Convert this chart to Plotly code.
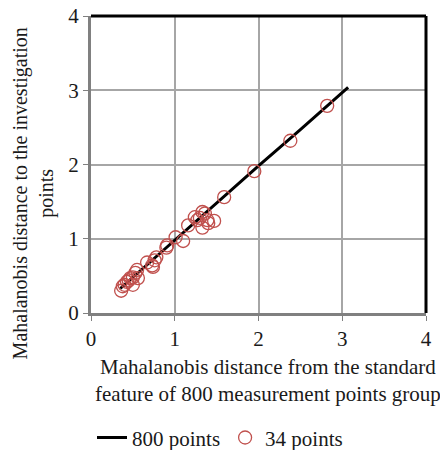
import plotly.graph_objects as go

# 800-points reference line
line_x = [0.35, 0.5, 1.0, 1.5, 2.0, 2.5, 3.07]
line_y = [0.33, 0.48, 0.99, 1.49, 1.98, 2.47, 3.04]

# 34 investigation points
pts_x = [0.36, 0.38, 0.40, 0.43, 0.45, 0.47, 0.50, 0.50, 0.53, 0.56, 0.55,
         0.67, 0.73, 0.74, 0.76, 0.78, 0.91, 0.90, 1.01, 1.10, 1.16, 1.24,
         1.27, 1.30, 1.33, 1.33, 1.36, 1.39, 1.40, 1.47, 1.59, 1.95, 2.38, 2.82]
pts_y = [0.30, 0.36, 0.38, 0.42, 0.44, 0.47, 0.48, 0.38, 0.54, 0.47, 0.58,
         0.68, 0.64, 0.62, 0.71, 0.75, 0.91, 0.88, 1.02, 0.97, 1.18, 1.29,
         1.25, 1.28, 1.36, 1.15, 1.34, 1.25, 1.21, 1.24, 1.56, 1.91, 2.32, 2.79]

ticks = [0, 1, 2, 3, 4]
FONT = "Liberation Serif"
TXT = "#1a1a1a"

fig = go.Figure()
fig.add_trace(go.Scatter(x=line_x, y=line_y, mode="lines", name="800 points",
                         line=dict(color="black", width=3)))
fig.add_trace(go.Scatter(x=pts_x, y=pts_y, mode="markers", name="34 points",
                         marker=dict(symbol="circle-open", size=13,
                                     color="#c0504d", line=dict(width=1.3))))

axis_common = dict(range=[0, 4], tickvals=ticks, showgrid=True,
                   gridcolor="#a6a6a6", gridwidth=1.5, zeroline=False,
                   showline=True, linecolor="#808080", linewidth=3,
                   ticks="outside", ticklen=5, tickcolor="#808080",
                   automargin=False,
                   tickfont=dict(family=FONT, size=21, color=TXT))
fig.update_xaxes(**axis_common)
fig.update_yaxes(**axis_common)

fig.add_shape(type="line", xref="paper", yref="paper", x0=0, x1=1, y0=1, y1=1,
              line=dict(color="black", width=3))
fig.add_shape(type="line", xref="paper", yref="paper", x0=1, x1=1, y0=0, y1=1,
              line=dict(color="black", width=3))

fig.add_annotation(text="Mahalanobis distance from the standard<br>feature of 800 measurement points group",
                   xref="paper", yref="paper", x=0.528, y=-0.135, yanchor="top",
                   showarrow=False, font=dict(family=FONT, size=21, color=TXT))
fig.add_annotation(text="Mahalanobis distance to the investigation<br>points",
                   xref="paper", yref="paper", x=-0.172, y=0.404,
                   xanchor="center", yanchor="middle",
                   textangle=-90, showarrow=False,
                   font=dict(family=FONT, size=20, color=TXT))

fig.update_layout(
    width=440, height=450,
    margin=dict(l=91, r=14, t=16, b=137),
    plot_bgcolor="white", paper_bgcolor="white",
    font=dict(family=FONT, size=21, color=TXT),
    showlegend=True,
    legend=dict(orientation="h", xref="container", x=0.5, xanchor="center",
                yref="container", y=0.027, yanchor="middle",
                font=dict(family=FONT, size=21, color=TXT)),
)

fig.write_html("out.html", config={"displayModeBar": False},
               post_script="document.body.style.margin='0';document.body.style.overflow='hidden';")
